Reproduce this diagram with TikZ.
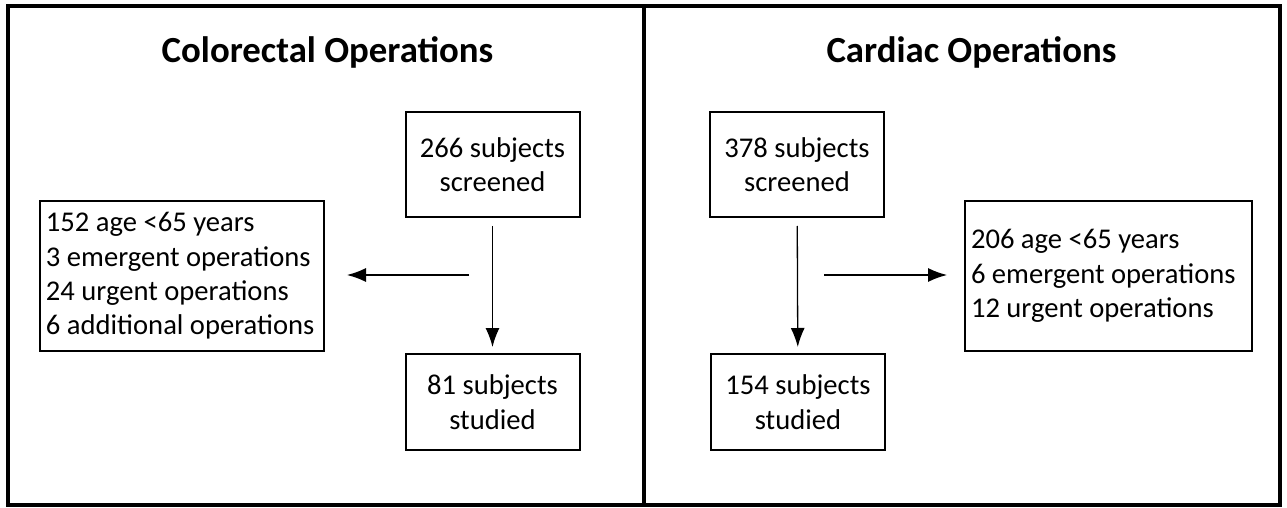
\documentclass[tikz,border=0pt]{standalone}
\usepackage{fontspec}
\setmainfont{Carlito}
\usetikzlibrary{arrows.meta}

\tikzset{
  panel/.style={draw, line width=2pt},
  headline/.style={anchor=base, font=\fontsize{18.4}{22}\selectfont\bfseries},
  stepbox/.style={draw, line width=1pt, align=center, inner sep=0pt,
    minimum width=87pt, minimum height=52.5pt,
    font=\fontsize{14.3}{17.2}\selectfont},
  listbox/.style={draw, line width=1pt, align=flush left, inner xsep=3pt,
    text width=136pt, minimum height=75pt,
    font=\fontsize{14.3}{17.2}\selectfont},
  flow/.style={->, line width=0.65pt}
}

\begin{document}
\begin{tikzpicture}[x=0.5pt, y=-0.5pt, >={Latex[length=9.5pt,width=7pt]}]
  \useasboundingbox (0,0) rectangle (1287,508);
  % two panels
  \draw[panel] (8,6) rectangle (1280,505);
  \draw[panel] (644,6) -- (644,505);

  % colorectal side
  \node[headline] (titleL) at (327.5,63) {Colorectal Operations};
  \node[stepbox] (scrL) at (492.5,164.5) {266 subjects\\screened};
  \node[stepbox, minimum height=48pt] (stuL) at (492.5,402) {81 subjects\\studied};
  \node[listbox] (excL) at (182,276) {152 age <65 years\\3 emergent operations\\24 urgent operations\\6 additional operations};
  \coordinate (cutL) at (469,275);
  \draw[flow, shorten <=4pt, shorten >=3pt] (scrL) -- (stuL);
  \draw[flow, shorten >=11pt] (cutL) -- (cutL -| excL.east);

  % cardiac side
  \node[headline] (titleR) at (971.5,63) {Cardiac Operations};
  \node[stepbox] (scrR) at (797,164.5) {378 subjects\\screened};
  \node[stepbox, minimum height=48pt] (stuR) at (798,402) {154 subjects\\studied};
  \node[listbox, text width=137.5pt] (excR) at (1108.5,276) {206 age <65 years\\6 emergent operations\\12 urgent operations};
  \coordinate (cutR) at (824,275);
  \draw[flow, shorten <=4pt, shorten >=3pt] (scrR) -- (stuR);
  \draw[flow, shorten >=8.5pt] (cutR) -- (cutR -| excR.west);
\end{tikzpicture}
\end{document}
